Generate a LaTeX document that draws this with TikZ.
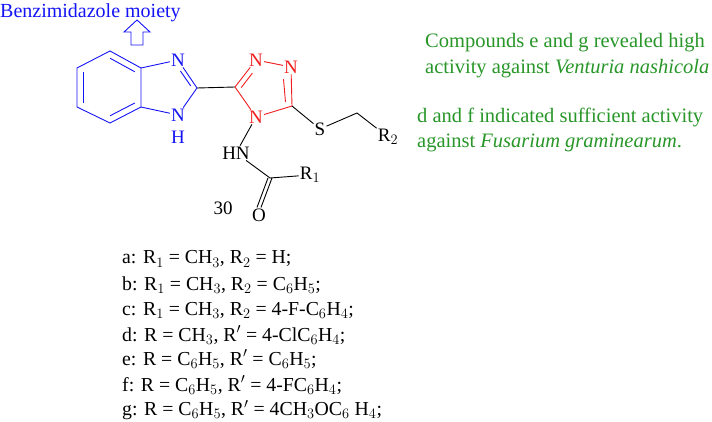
\documentclass[tikz,border=0pt]{standalone}
\usepackage{fontspec}
\setmainfont{Liberation Serif}
\usetikzlibrary{calc,positioning}
\definecolor{moiblue}{RGB}{20,20,245}
\definecolor{trired}{RGB}{240,30,30}
\definecolor{actgreen}{RGB}{40,150,40}
\tikzset{
  atom/.style={inner sep=1pt, font=\fontsize{19}{21}\selectfont},
  bond/.style={line width=0.9pt},
  note/.style={anchor=west, inner sep=0pt, text=actgreen, font=\fontsize{20.5}{23}\selectfont},
  entry/.style={anchor=west, inner sep=0pt, font=\fontsize{19.8}{22}\selectfont}
}

\begin{document}
\begin{tikzpicture}[x=1pt,y=-1pt]
  \useasboundingbox (0,0) rectangle (712,422);

  \node[anchor=west, inner sep=0pt, text=moiblue, font=\fontsize{20}{22}\selectfont] (moi) at (0,13) {Benzimidazole moiety};
  \draw[moiblue, line width=0.9pt] (137,20) -- (150,32) -- (143,32) -- (143,45) -- (131,45) -- (131,32) -- (124,32) -- cycle;

  % benzene ring
  \coordinate (b1) at (110,51);
  \coordinate (b2) at (141,68);
  \coordinate (b3) at (141,107);
  \coordinate (b4) at (110,123);
  \coordinate (b5) at (77,107);
  \coordinate (b6) at (77,68);
  \coordinate (bc) at (110,87);
  \draw[bond, moiblue] (b1) -- (b2) -- (b3) -- (b4) -- (b5) -- (b6) -- cycle;
  \draw[bond, moiblue] ($(b1)!0.2!(bc)$) -- ($(b2)!0.2!(bc)$);
  \draw[bond, moiblue] ($(b3)!0.2!(bc)$) -- ($(b4)!0.2!(bc)$);
  \draw[bond, moiblue] ($(b5)!0.2!(bc)$) -- ($(b6)!0.2!(bc)$);

  % imidazole
  \node[atom, text=moiblue] (n3) at (178,60) {N};
  \node[atom, text=moiblue] (n1) at (178,115) {N};
  \node[atom, text=moiblue] (h1) at (178,137) {H};
  \coordinate (c2) at (197,88);
  \draw[bond, moiblue] (b2) -- (n3) -- (c2) -- (n1) -- (b3);
  \draw[bond, moiblue] (180.4,71) -- (190.8,86);

  % triazole
  \coordinate (c5) at (235,87);
  \coordinate (c3) at (292,106);
  \coordinate (tc) at (266,90);
  \node[atom, text=trired] (na) at (256,60) {N};
  \node[atom, text=trired] (nb) at (291,67) {N};
  \node[atom, text=trired] (n4) at (256,117) {N};
  \draw[bond] (c2) -- (c5);
  \draw[bond, trired] (c5) -- (na) -- (nb) -- (c3) -- (n4) -- (c5);
  \draw[bond, trired] ($(c5)!0.2!(tc)$) -- ($(na.south west)!0.25!(tc)$);
  \draw[bond, trired] ($(nb.south)!0.3!(tc)$) -- ($(c3)!0.25!(tc)$);

  % side chains
  \node[atom] (s) at (320,129) {S};
  \coordinate (ch2) at (357,113);
  \node[atom] (r2) at (388,137) {R$_2$};
  \draw[bond] (c3) -- (s) -- (ch2) -- (r2);
  \node[atom] (hn) at (236,153) {HN};
  \coordinate (co) at (270,178);
  \node[atom] (r1) at (310,175) {R$_1$};
  \node[atom] (o) at (259,215) {O};
  \draw[bond] (n4) -- (hn) -- (co) -- (r1);
  \draw[bond] ([xshift=-2pt]co) -- ([xshift=-2pt]o.north);
  \draw[bond] ([xshift=2pt]co) -- ([xshift=2pt]o.north);
  \node[atom] (num) at (223,208) {30};

  % activity notes
  \node[note] (t1) at (425,43) {Compounds e and g revealed high};
  \node[note] (t2) at (425,69) {activity against \textit{Venturia nashicola}};
  \node[note] (t3) at (417,117) {d and f indicated sufficient activity};
  \node[note] (t4) at (417,143) {against \textit{Fusarium graminearum}.};

  % substituent list
  \node[entry] (la) at (122,259) {a: R$_1$ = CH$_3$, R$_2$ = H;};
  \node[entry] (lb) at (122,285) {b: R$_1$ = CH$_3$, R$_2$ = C$_6$H$_5$;};
  \node[entry] (lc) at (122,310) {c: R$_1$ = CH$_3$, R$_2$ = 4-F-C$_6$H$_4$;};
  \node[entry] (ld) at (122,335) {d: R = CH$_3$, R$'$ = 4-ClC$_6$H$_4$;};
  \node[entry] (le) at (122,359) {e: R = C$_6$H$_5$, R$'$ = C$_6$H$_5$;};
  \node[entry] (lf) at (122,385) {f: R = C$_6$H$_5$, R$'$ = 4-FC$_6$H$_4$;};
  \node[entry] (lg) at (122,410) {g: R = C$_6$H$_5$, R$'$ = 4CH$_3$OC$_6$ H$_4$;};
\end{tikzpicture}
\end{document}
